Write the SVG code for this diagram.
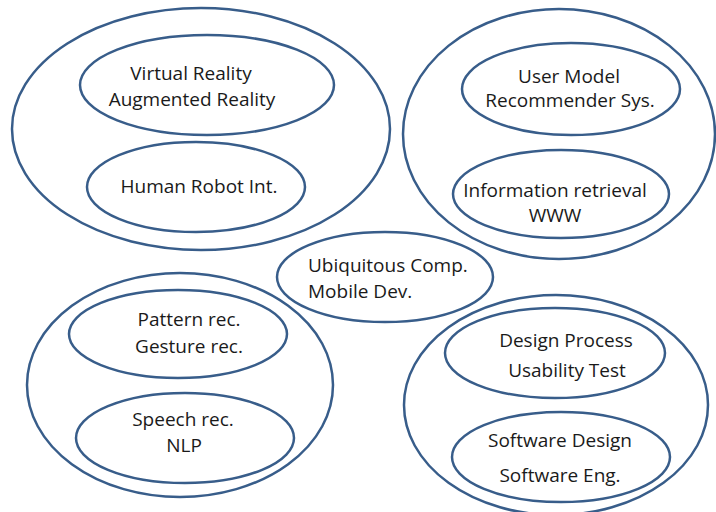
<svg xmlns="http://www.w3.org/2000/svg" width="716" height="512" viewBox="0 0 716 512">
  <style>
    .ring { fill: none; stroke: #385d8a; stroke-width: 2.5; }
    .lbl { font-family: "Open Sans", "Noto Sans", sans-serif; font-size: 19px; fill: #1a1a1a; text-anchor: middle; }
    .left { text-anchor: start; }
  </style>
  <rect width="716" height="512" fill="#ffffff"/>

  <!-- Top-left cluster -->
  <g id="cluster-vr-hri">
    <ellipse class="ring" cx="201" cy="129" rx="189" ry="121"/>
  </g>
  <g id="node-vr-ar">
    <ellipse class="ring" cx="207" cy="85" rx="127" ry="50"/>
    <text class="lbl" x="191" y="80">Virtual Reality</text>
    <text class="lbl" x="192" y="106">Augmented Reality</text>
  </g>
  <g id="node-hri">
    <ellipse class="ring" cx="196" cy="187" rx="109" ry="45"/>
    <text class="lbl" x="199" y="193">Human Robot Int.</text>
  </g>

  <!-- Top-right cluster -->
  <g id="cluster-um-ir">
    <ellipse class="ring" cx="559" cy="134" rx="156" ry="125"/>
  </g>
  <g id="node-user-model">
    <ellipse class="ring" cx="571" cy="89" rx="109" ry="46"/>
    <text class="lbl" x="569" y="83">User Model</text>
    <text class="lbl" x="570" y="107">Recommender Sys.</text>
  </g>
  <g id="node-info-retrieval">
    <ellipse class="ring" cx="561" cy="194" rx="108" ry="44"/>
    <text class="lbl" x="555" y="197">Information retrieval</text>
    <text class="lbl" x="555" y="222">WWW</text>
  </g>

  <!-- Centre -->
  <g id="node-ubiquitous">
    <ellipse class="ring" cx="385" cy="277" rx="108" ry="45"/>
    <text class="lbl left" x="308" y="272">Ubiquitous Comp.</text>
    <text class="lbl left" x="308" y="298">Mobile Dev.</text>
  </g>

  <!-- Bottom-left cluster -->
  <g id="cluster-recognition">
    <ellipse class="ring" cx="180" cy="385" rx="153" ry="112"/>
  </g>
  <g id="node-pattern">
    <ellipse class="ring" cx="178" cy="334" rx="109" ry="44"/>
    <text class="lbl" x="189" y="326">Pattern rec.</text>
    <text class="lbl" x="189" y="353">Gesture rec.</text>
  </g>
  <g id="node-speech">
    <ellipse class="ring" cx="185" cy="438" rx="109" ry="45"/>
    <text class="lbl" x="183" y="426">Speech rec.</text>
    <text class="lbl" x="184" y="452">NLP</text>
  </g>

  <!-- Bottom-right cluster -->
  <g id="cluster-design">
    <ellipse class="ring" cx="556" cy="405" rx="152" ry="110"/>
  </g>
  <g id="node-design-process">
    <ellipse class="ring" cx="555" cy="353" rx="110" ry="45"/>
    <text class="lbl" x="566" y="347">Design Process</text>
    <text class="lbl" x="567" y="377">Usability Test</text>
  </g>
  <g id="node-software">
    <ellipse class="ring" cx="561" cy="457" rx="109" ry="45"/>
    <text class="lbl" x="560" y="447">Software Design</text>
    <text class="lbl" x="560" y="482">Software Eng.</text>
  </g>
</svg>
